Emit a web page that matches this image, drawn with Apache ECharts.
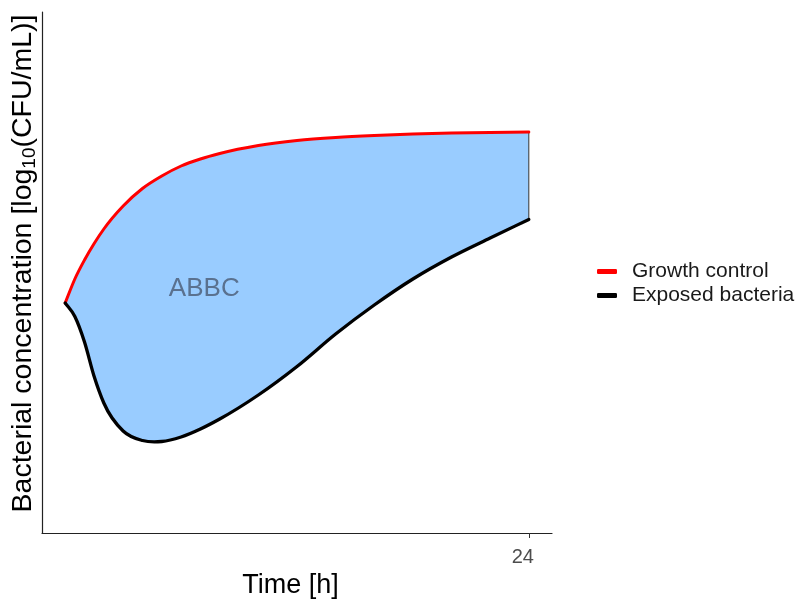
<!DOCTYPE html>
<html>
<head>
<meta charset="utf-8">
<script src="https://cdn.jsdelivr.net/npm/echarts@6/dist/echarts.min.js"></script>
<style>html,body{margin:0;padding:0;background:#fff}#c{width:798px;height:601px}</style>
</head>
<body>
<div id="c"></div>
<script>
// time points [h]
var times = [0, 0.5, 1, 1.5, 2, 3, 4, 5, 6, 7, 8, 10, 12, 14, 16, 18, 20, 22, 24];
// log10 CFU/mL, growth control
var growthControl = [4.6, 5.08, 5.46, 5.79, 6.08, 6.54, 6.89, 7.14, 7.34, 7.48, 7.59, 7.75, 7.85, 7.91, 7.95, 7.98, 8.0, 8.01, 8.02];
// log10 CFU/mL, exposed bacteria
var exposed = [4.6, 4.33, 3.82, 3.13, 2.6, 2.04, 1.85, 1.83, 1.92, 2.08, 2.28, 2.76, 3.33, 3.98, 4.56, 5.08, 5.52, 5.9, 6.27];
var xTickValues = [24];
var areaLabel = 'ABBC';
var areaLabelPos = [7.2, 4.88];

var FONT = '"Liberation Sans", Arial, sans-serif';

// smooth cubic Hermite segments through pixel points (x increasing)
function segments(pts) {
  var n = pts.length, m = [], i;
  for (i = 0; i < n; i++) {
    if (i === 0) m.push((pts[1][1] - pts[0][1]) / (pts[1][0] - pts[0][0]));
    else if (i === n - 1) m.push((pts[n - 1][1] - pts[n - 2][1]) / (pts[n - 1][0] - pts[n - 2][0]));
    else {
      var d0 = pts[i][0] - pts[i - 1][0], d1 = pts[i + 1][0] - pts[i][0];
      var s0 = (pts[i][1] - pts[i - 1][1]) / d0, s1 = (pts[i + 1][1] - pts[i][1]) / d1;
      m.push((s0 * d1 + s1 * d0) / (d0 + d1));
    }
  }
  var segs = [];
  for (i = 0; i < n - 1; i++) {
    var dx = pts[i + 1][0] - pts[i][0];
    segs.push({
      p0: pts[i], p1: pts[i + 1],
      c1: [pts[i][0] + dx / 3, pts[i][1] + m[i] * dx / 3],
      c2: [pts[i + 1][0] - dx / 3, pts[i + 1][1] - m[i + 1] * dx / 3]
    });
  }
  return segs;
}
function f(p) { return p[0].toFixed(2) + ' ' + p[1].toFixed(2); }
function forwardPath(segs) {
  var d = '';
  segs.forEach(function (s) { d += ' C ' + f(s.c1) + ' ' + f(s.c2) + ' ' + f(s.p1); });
  return d;
}
function backwardPath(segs) {
  var d = '';
  for (var i = segs.length - 1; i >= 0; i--) {
    var s = segs[i];
    d += ' C ' + f(s.c2) + ' ' + f(s.c1) + ' ' + f(s.p0);
  }
  return d;
}
function coords(api, ys) { return times.map(function (t, i) { return api.coord([t, ys[i]]); }); }

function bandItem(params, api) {
  var top = segments(coords(api, growthControl));
  var bot = segments(coords(api, exposed));
  var d = 'M ' + f(top[0].p0) + forwardPath(top) + ' L ' + f(bot[bot.length - 1].p1) + backwardPath(bot) + ' Z';
  return {type: 'path', shape: {pathData: d}, style: {fill: '#99ccff', stroke: null}, silent: true};
}
function edgeItem(params, api) {
  var a = api.coord([times[times.length - 1], growthControl[growthControl.length - 1]]);
  var b = api.coord([times[times.length - 1], exposed[exposed.length - 1]]);
  return {type: 'line', shape: {x1: a[0], y1: a[1], x2: b[0], y2: b[1]}, style: {stroke: '#333', lineWidth: 1}, silent: true};
}
function curveRenderer(ys, color, width) {
  return function (params, api) {
    var segs = segments(coords(api, ys));
    var d = 'M ' + f(segs[0].p0) + forwardPath(segs);
    return {type: 'path', shape: {pathData: d},
      style: {fill: null, stroke: color, lineWidth: width, lineCap: 'round', lineJoin: 'round'}, silent: true};
  };
}

var chart = echarts.init(document.getElementById('c'), null, {renderer: 'canvas'});
chart.setOption({
  animation: false,
  backgroundColor: '#ffffff',
  textStyle: {fontFamily: FONT},
  grid: {left: 42, top: 12, right: 246, bottom: 68, containLabel: false, outerBoundsMode: 'none'},
  legend: {
    data: ['Growth control', 'Exposed bacteria'],
    orient: 'vertical', left: 592, top: 256, itemGap: 3,
    itemWidth: 20, itemHeight: 5, icon: 'roundRect',
    textStyle: {fontSize: 21, color: '#1a1a1a', fontFamily: FONT, padding: [0, 0, 0, 10]}
  },
  xAxis: {
    type: 'value', min: -1.2, max: 25.2,
    name: 'Time [h]', nameLocation: 'middle', nameGap: 39,
    nameTextStyle: {fontSize: 27, color: '#000', fontFamily: FONT, padding: [0, 13, 0, 0]},
    axisLine: {show: true, onZero: false, lineStyle: {color: '#222', width: 1.2}},
    axisTick: {show: true, customValues: xTickValues, length: 5, lineStyle: {color: '#333'}},
    axisLabel: {show: true, customValues: xTickValues, fontSize: 20, color: '#4d4d4d', margin: 14, fontFamily: FONT,
      padding: [0, 12, 0, 0]},
    splitLine: {show: false}
  },
  yAxis: {
    type: 'value', min: 0, max: 10.42,
    name: 'Bacterial concentration [log{sub|10}(CFU/mL)]',
    nameLocation: 'middle', nameGap: 3, nameRotate: 90,
    nameTextStyle: {fontSize: 28.5, color: '#000', fontFamily: FONT, padding: [0, 0, 0, 18],
      rich: {sub: {fontSize: 19, color: '#000', fontFamily: FONT, padding: [13, 0, 0, 0]}}},
    axisLine: {show: true, onZero: false, lineStyle: {color: '#222', width: 1.2}},
    axisTick: {show: false}, axisLabel: {show: false}, splitLine: {show: false}
  },
  series: [
    {name: 'band', type: 'custom', data: [[0, 0]], renderItem: bandItem, z: 1, silent: true},
    {name: 'edge', type: 'custom', data: [[0, 0]], renderItem: edgeItem, z: 2, silent: true},
    {name: 'Growth control', type: 'custom', data: [[0, 0]], itemStyle: {color: '#ff0000'},
     renderItem: curveRenderer(growthControl, '#ff0000', 3), z: 3},
    {name: 'Exposed bacteria', type: 'custom', data: [[0, 0]], itemStyle: {color: '#000000'},
     renderItem: curveRenderer(exposed, '#000000', 3.3), z: 3},
    {name: 'label', type: 'scatter', data: [areaLabelPos], symbolSize: 0, z: 4, silent: true,
     label: {show: true, position: 'inside', formatter: areaLabel, fontSize: 26, color: '#4a5a73', fontFamily: FONT}}
  ]
});
</script>
</body>
</html>
